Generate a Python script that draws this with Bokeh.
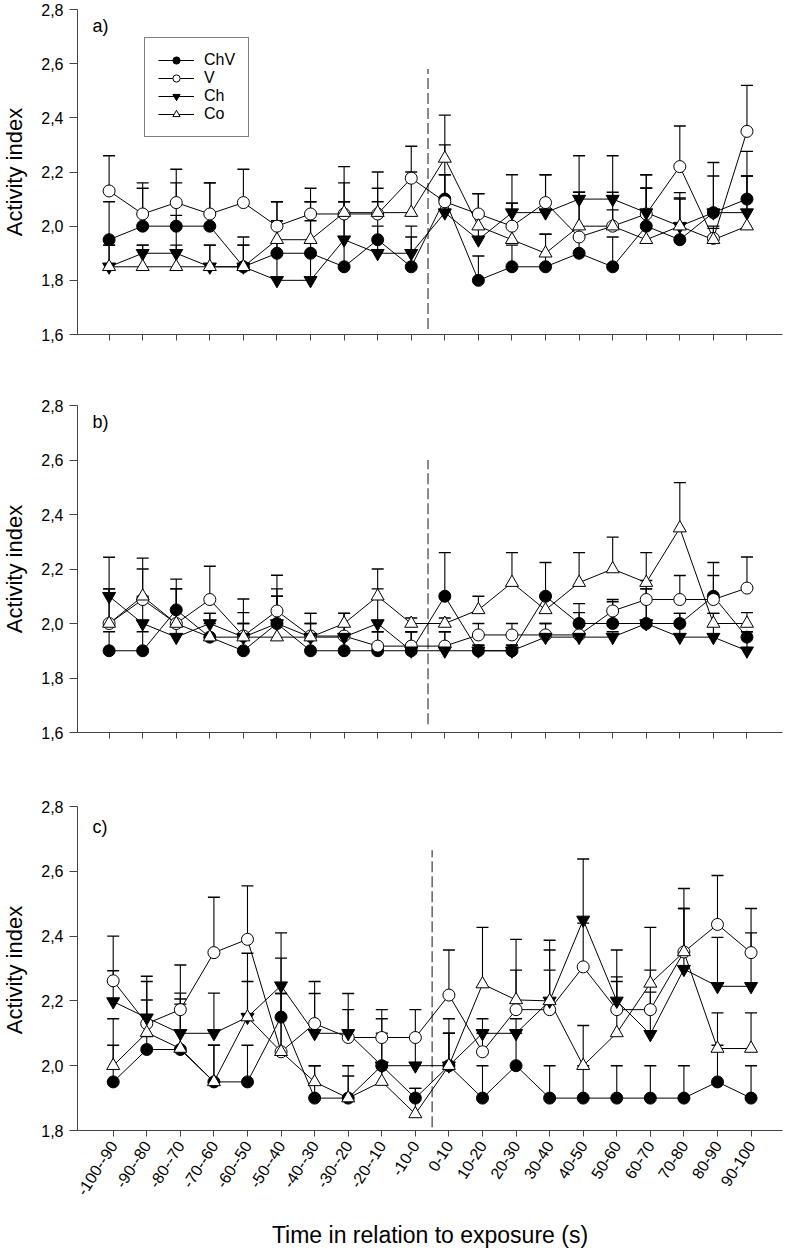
from math import pi
import numpy as np
from bokeh.plotting import figure
from bokeh.models import (Range1d, FixedTicker, CustomJSTickFormatter, ColumnDataSource,
                          Whisker, TeeHead, Label, Legend, LegendItem)
from bokeh.layouts import column, row
from bokeh.embed import file_html
from bokeh.resources import INLINE

FONT = "Liberation Sans"

categories = ["-100--90", "-90--80", "-80--70", "-70--60", "-60--50", "-50--40",
              "-40--30", "-30--20", "-20--10", "-10-0", "0-10", "10-20", "20-30",
              "30-40", "40-50", "50-60", "60-70", "70-80", "80-90", "90-100"]
series_names = ["ChV", "V", "Ch", "Co"]

# ---- panel a) ----
a_ChV = [1.95, 2.00, 2.00, 2.00, 1.85, 1.90, 1.90, 1.85, 1.95, 1.85, 2.10, 1.80, 1.85, 1.85, 1.90, 1.85, 2.00, 1.95, 2.05, 2.10]
a_ChV_se = [0.14, 0.14, 0.16, 0.16, 0.08, 0.19, 0.19, 0.24, 0.14, 0.11, 0.20, 0.09, 0.08, 0.12, 0.06, 0.11, 0.19, 0.15, 0.185, 0.176]
a_V = [2.13, 2.045, 2.087, 2.045, 2.087, 2.00, 2.045, 2.045, 2.045, 2.177, 2.09, 2.045, 2.00, 2.087, 1.96, 2.00, 2.045, 2.22, 1.955, 2.35]
a_V_se = [0.13, 0.115, 0.123, 0.115, 0.123, 0.09, 0.095, 0.175, 0.155, 0.118, 0.10, 0.075, 0.085, 0.103, 0.165, 0.06, 0.096, 0.15, 0.037, 0.17]
a_Ch = [1.85, 1.90, 1.90, 1.85, 1.85, 1.80, 1.80, 1.95, 1.90, 1.90, 2.05, 1.95, 2.05, 2.05, 2.10, 2.10, 2.05, 2.00, 2.05, 2.05]
a_Ch_se = [0.08, 0.03, 0.14, 0.08, 0.11, 0.22, 0.29, 0.14, 0.10, 0.10, 0.14, 0.17, 0.14, 0.14, 0.16, 0.16, 0.14, 0.104, 0.135, 0.135]
a_Co = [1.85, 1.85, 1.85, 1.85, 1.85, 1.95, 1.95, 2.05, 2.05, 2.05, 2.25, 2.00, 1.95, 1.90, 2.00, 2.00, 1.95, 2.00, 1.95, 2.00]
a_Co_se = [0.08, 0.08, 0.08, 0.08, 0.08, 0.07, 0.07, 0.11, 0.09, 0.15, 0.16, 0.12, 0.135, 0.07, 0.125, 0.125, 0.19, 0.124, 0.05, 0.185]

# ---- panel b) ----
b_ChV = [1.90, 1.90, 2.05, 1.95, 1.90, 2.00, 1.90, 1.90, 1.90, 1.90, 2.10, 1.90, 1.90, 2.10, 2.00, 2.00, 2.00, 2.00, 2.10, 1.95]
b_ChV_se = [0.07, 0.07, 0.113, 0.05, 0.10, 0.127, 0.137, 0.05, 0.07, 0.07, 0.16, 0.02, 0.02, 0.124, 0.073, 0.08, 0.127, 0.037, 0.124, 0.02]
b_V = [2.00, 2.088, 2.00, 2.088, 1.954, 2.046, 1.954, 1.954, 1.917, 1.917, 1.917, 1.958, 1.958, 1.958, 1.958, 2.046, 2.088, 2.088, 2.088, 2.13]
b_V_se = [0.127, 0.112, 0.127, 0.122, 0.136, 0.131, 0.083, 0.083, 0.053, 0.053, 0.053, 0.042, 0.042, 0.042, 0.042, 0.042, 0.07, 0.088, 0.088, 0.114]
b_Ch = [2.10, 2.00, 1.95, 2.00, 1.95, 2.00, 1.95, 1.95, 2.00, 1.90, 1.90, 1.90, 1.90, 1.95, 1.95, 1.95, 2.00, 1.95, 1.95, 1.90]
b_Ch_se = [0.143, 0.10, 0.05, 0.037, 0.05, 0.10, 0.05, 0.087, 0.127, 0.07, 0.07, 0.02, 0.02, 0.05, 0.09, 0.02, 0.127, 0.087, 0.087, 0.07]
b_Co = [2.00, 2.10, 2.00, 1.95, 1.95, 1.95, 1.95, 2.00, 2.10, 2.00, 2.00, 2.05, 2.15, 2.05, 2.15, 2.20, 2.15, 2.35, 2.00, 2.00]
b_Co_se = [0.127, 0.14, 0.127, 0.087, 0.09, 0.15, 0.05, 0.037, 0.10, 0.02, 0.02, 0.05, 0.11, 0.05, 0.11, 0.117, 0.11, 0.167, 0.037, 0.04]

# ---- panel c) ----
c_ChV = [1.95, 2.05, 2.05, 1.95, 1.95, 2.15, 1.90, 1.90, 2.00, 1.90, 2.00, 1.90, 2.00, 1.90, 1.90, 1.90, 1.90, 1.90, 1.95, 1.90]
c_ChV_se = [0.113, 0.04, 0.14, 0.113, 0.113, 0.182, 0.10, 0.068, 0.10, 0.03, 0.10, 0.10, 0.10, 0.10, 0.10, 0.10, 0.10, 0.10, 0.113, 0.10]
c_V = [2.262, 2.13, 2.173, 2.349, 2.39, 2.043, 2.13, 2.087, 2.087, 2.087, 2.218, 2.043, 2.173, 2.173, 2.305, 2.173, 2.173, 2.351, 2.436, 2.349]
c_V_se = [0.138, 0.146, 0.138, 0.171, 0.165, 0.18, 0.13, 0.086, 0.086, 0.086, 0.139, 0.057, 0.122, 0.122, 0.135, 0.087, 0.122, 0.196, 0.151, 0.136]
c_Ch = [2.198, 2.148, 2.10, 2.10, 2.15, 2.247, 2.10, 2.10, 2.00, 2.00, 2.00, 2.10, 2.10, 2.20, 2.45, 2.20, 2.097, 2.298, 2.245, 2.245]
c_Ch_se = [0.095, 0.112, 0.124, 0.124, 0.11, 0.163, 0.123, 0.123, 0.145, 0.087, 0.145, 0.045, 0.045, 0.157, 0.188, 0.157, 0.13, 0.187, 0.151, 0.165]
c_Co = [2.00, 2.102, 2.053, 1.95, 2.15, 2.043, 1.95, 1.90, 1.951, 1.851, 2.00, 2.252, 2.203, 2.20, 2.00, 2.101, 2.254, 2.351, 2.053, 2.053]
c_Co_se = [0.145, 0.101, 0.153, 0.113, 0.197, 0.18, 0.05, 0.10, 0.049, 0.079, 0.10, 0.175, 0.187, 0.187, 0.124, 0.173, 0.173, 0.134, 0.11, 0.11]

exposure_at = 9.5  # boundary between "-10-0" and "0-10"
y_title = "Activity index"
x_title = "Time in relation to exposure (s)"

STYLE = {
    "ChV": ("circle", "black", 12),
    "V": ("circle", "white", 12),
    "Ch": ("inverted_triangle", "black", 13),
    "Co": ("triangle", "white", 13),
}

AXIS_COLOR = "#444444"
PAGE_W, PAGE_H = 785, 1250
TITLE_W = 28
FIG_W = PAGE_W - TITLE_W
FRAME_L, FRAME_R = 77, 782          # shared frame edges (page px)
UNIT = (FRAME_R - FRAME_L) / 21.0     # px per category


def make_panel(tag, means, ses, y_lo, y_hi, height, first_cat_px, b_top, b_bottom,
               dash_lo, dash_hi, show_xlabels, legend_loc=None, tag_y=None):
    x = list(range(len(categories)))
    x0 = -(first_cat_px - FRAME_L) / UNIT
    p = figure(width=FIG_W, height=height,
               x_range=Range1d(x0, x0 + 21.0), y_range=Range1d(y_lo, y_hi),
               output_backend="svg", toolbar_location=None,
               min_border_left=FRAME_L - TITLE_W, min_border_right=PAGE_W - FRAME_R,
               min_border_top=b_top, min_border_bottom=b_bottom)
    p.outline_line_color = None
    p.grid.visible = False
    p.background_fill_color = "white"
    p.border_fill_color = "white"

    # error bars (upper only)
    for name in series_names:
        m = means[name]
        s = ses[name]
        src = ColumnDataSource(dict(x=x, y=m, upper=[a + b for a, b in zip(m, s)]))
        w = Whisker(base="x", upper="upper", lower="y", source=src, level="underlay",
                    line_color="black", line_width=1.1,
                    upper_head=TeeHead(size=12, line_color="black", line_width=1.4),
                    lower_head=None)
        p.add_layout(w)

    # exposure marker
    p.segment(x0=[exposure_at], y0=[dash_lo], x1=[exposure_at], y1=[dash_hi],
              line_color="#3c3c3c", line_width=1.2, line_dash="11 4")

    lines = {}
    for name in series_names:
        lines[name] = p.line(x, means[name], line_color="black", line_width=1)
    scat = {}
    for name in series_names:
        marker, fill, size = STYLE[name]
        scat[name] = p.scatter(x, means[name], marker=marker, size=size,
                               fill_color=fill, line_color="black", line_width=1)

    # y axis
    yt = [round(v, 1) for v in np.arange(y_lo, y_hi + 0.001, 0.2)]
    p.yaxis.ticker = FixedTicker(ticks=yt)
    p.yaxis.formatter = CustomJSTickFormatter(code="return tick.toFixed(1).replace('.', ',');")
    p.yaxis.major_tick_out = 8
    p.yaxis.major_tick_in = 0
    p.yaxis.minor_tick_out = 0
    p.yaxis.minor_tick_in = 0
    p.yaxis.major_label_standoff = 6
    p.yaxis.major_label_text_font = FONT
    p.yaxis.major_label_text_font_size = "16px"
    p.yaxis.major_label_text_color = "black"
    p.yaxis.axis_line_color = AXIS_COLOR
    p.yaxis.major_tick_line_color = AXIS_COLOR

    # x axis
    p.xaxis.ticker = FixedTicker(ticks=x)
    p.xaxis.major_label_overrides = {i: c for i, c in enumerate(categories)}
    p.xaxis.major_tick_out = 6
    p.xaxis.major_tick_in = 0
    p.xaxis.minor_tick_out = 0
    p.xaxis.minor_tick_in = 0
    p.xaxis.axis_line_color = AXIS_COLOR
    p.xaxis.major_tick_line_color = AXIS_COLOR
    p.xaxis.major_label_text_font = FONT
    if show_xlabels:
        p.xaxis.major_label_orientation = 1.0
        p.xaxis.major_label_text_font_size = "16px"
        p.xaxis.major_label_standoff = 6
        p.xaxis.major_label_text_color = "black"
        p.xaxis.axis_label = x_title
        p.xaxis.axis_label_text_font = FONT
        p.xaxis.axis_label_text_font_size = "23px"
        p.xaxis.axis_label_text_font_style = "normal"
        p.xaxis.axis_label_text_color = "black"
        p.xaxis.axis_label_standoff = 19
    else:
        p.xaxis.major_label_text_font_size = "1px"
        p.xaxis.major_label_text_alpha = 0
        p.xaxis.major_label_standoff = 0

    # panel tag
    x_tag = x0 + (92 - FRAME_L) / UNIT
    p.add_layout(Label(x=x_tag, y=tag_y, text=tag, text_align="left", text_baseline="middle",
                       text_font=FONT, text_font_size="18px", text_color="black"))

    if legend_loc is not None:
        items = [LegendItem(label=n, renderers=[lines[n], scat[n]]) for n in series_names]
        leg = Legend(items=items, location=legend_loc, glyph_width=36, glyph_height=18,
                     label_height=18, spacing=0, padding=13, label_standoff=10, margin=0,
                     border_line_color="black", border_line_width=1,
                     background_fill_color="white", background_fill_alpha=1.0,
                     label_text_font=FONT, label_text_font_size="16px",
                     label_text_color="black")
        p.add_layout(leg)
    return p


# heights / frame placement (page pixels)
H_A, H_B, H_C = 372, 398, 480
pa = make_panel("a)",
                dict(ChV=a_ChV, V=a_V, Ch=a_Ch, Co=a_Co),
                dict(ChV=a_ChV_se, V=a_V_se, Ch=a_Ch_se, Co=a_Co_se),
                1.6, 2.8, H_A, 108.6, 9, 38, 1.62, 2.58, False,
                legend_loc=(144 - FRAME_L, 197), tag_y=2.74)
pb = make_panel("b)",
                dict(ChV=b_ChV, V=b_V, Ch=b_Ch, Co=b_Co),
                dict(ChV=b_ChV_se, V=b_V_se, Ch=b_Ch_se, Co=b_Co_se),
                1.6, 2.8, H_B, 108.6, 33, 38, 1.63, 2.60, False, tag_y=2.738)
pc = make_panel("c)",
                dict(ChV=c_ChV, V=c_V, Ch=c_Ch, Co=c_Co),
                dict(ChV=c_ChV_se, V=c_V_se, Ch=c_Ch_se, Co=c_Co_se),
                1.8, 2.8, H_C, 112.7, 36, 117, 1.81, 2.665, True, tag_y=2.736)

# strip holding the rotated y-axis titles of the three panels
frame_mid = [9 + 325 / 2, H_A + 33 + 327 / 2, H_A + H_B + 36 + 327 / 2]
tf = figure(width=TITLE_W, height=PAGE_H, x_range=Range1d(0, TITLE_W),
            y_range=Range1d(PAGE_H, 0), output_backend="svg", toolbar_location=None,
            min_border=0, min_border_left=0, min_border_right=0,
            min_border_top=0, min_border_bottom=0)
tf.axis.visible = False
tf.grid.visible = False
tf.outline_line_color = None
for ym in frame_mid:
    tf.add_layout(Label(x=13.5, y=ym, text=y_title, angle=pi / 2,
                        text_align="center", text_baseline="middle",
                        text_font=FONT, text_font_size="22px", text_color="black"))

layout = row(tf, column(pa, pb, pc, spacing=0), spacing=0)
open("out.html", "w").write(file_html(layout, INLINE))
